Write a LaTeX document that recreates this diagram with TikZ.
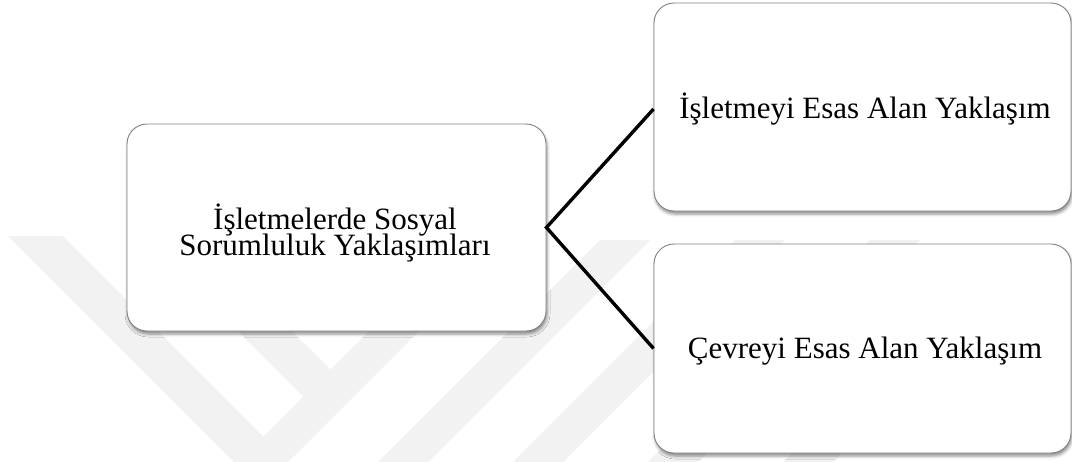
\documentclass[tikz,border=0pt]{standalone}
\usepackage{fontspec}
\setmainfont{Liberation Serif}
\usetikzlibrary{shadows.blur}
\begin{document}
\begin{tikzpicture}[x=1pt,y=-1pt,
  box/.style={draw=black!50, line width=0.9pt, fill=white, rounded corners=20pt, inner sep=0pt,
    blur shadow={shadow xshift=1pt, shadow yshift=-3pt, shadow blur radius=3pt, shadow opacity=45}},
  lbl/.style={inner sep=0pt, anchor=base, font=\fontsize{31}{26}\selectfont},
  link/.style={line width=3.4pt, draw=black, line join=miter},
  wm/.style={fill=black!5, draw=none}]
\useasboundingbox (0,0) rectangle (1072,461);
% faint watermark
\begin{scope}
  \clip (0,0) rectangle (1072,461);
  \fill[wm] (8,236) -- (63,236) -- (300,473) -- (245,473) -- cycle;
  \fill[wm] (464,236) -- (514,236) -- (277,473) -- (227,473) -- cycle;
  \fill[wm] (143,236) -- (197,236) -- (340,379) -- (310,403) -- cycle;
  \fill[wm] (600,240) -- (650,240) -- (417,473) -- (367,473) -- cycle;
  \fill[wm] (735,240) -- (785,240) -- (552,473) -- (502,473) -- cycle;
  \fill[wm] (870,240) -- (920,240) -- (687,473) -- (637,473) -- cycle;
  \fill[wm] (985,260) -- (1035,260) -- (822,473) -- (772,473) -- cycle;
\end{scope}
% boxes
\node[box, minimum width=419pt, minimum height=207pt] (L) at (336.5,227.5) {};
\node[box, minimum width=417pt, minimum height=208pt] (T) at (862.5,107) {};
\node[box, minimum width=417pt, minimum height=209pt] (B) at (862.5,348.5) {};
% texts
\node[lbl] (Lt) at (335,229) {\vtop{\baselineskip=26pt\lineskiplimit=-100pt
  \hbox to 340pt{\hss İşletmelerde Sosyal\hss}
  \hbox to 340pt{\hss Sorumluluk Yaklaşımları\hss}}};
\node[lbl] (Tt) at (865,118) {İşletmeyi Esas Alan Yaklaşım};
\node[lbl] (Bt) at (865,358) {Çevreyi Esas Alan Yaklaşım};
% connectors
\draw[link] ([yshift=-2pt]T.west) -- (L.east) -- (B.west);
\end{tikzpicture}
\end{document}
